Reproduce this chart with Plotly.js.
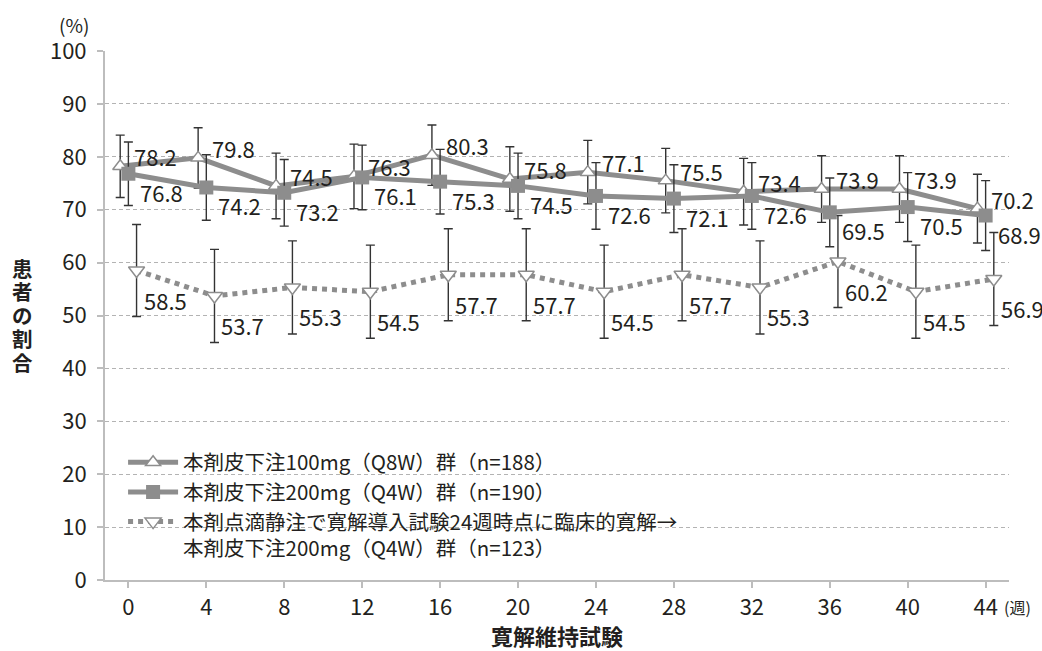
<!DOCTYPE html>
<html>
<head>
<meta charset="utf-8">
<script src="https://cdn.plot.ly/plotly-3.0.1.min.js"></script>
<style>
html,body{margin:0;padding:0;background:#fff;}
#chart{width:1042px;height:651px;}
</style>
</head>
<body>
<div id="chart"></div>
<script>
// ---- data ----
const weeks = [0, 4, 8, 12, 16, 20, 24, 28, 32, 36, 40, 44];
const tickLabels = ['0','4','8','12','16','20','24','28','32','36','40','44'];

const nameQ8W = '本剤皮下注100mg（Q8W）群（n=188）';
const nameQ4W = '本剤皮下注200mg（Q4W）群（n=190）';
const nameIV  = '本剤点滴静注で寛解導入試験24週時点に臨床的寛解→<br>本剤皮下注200mg（Q4W）群（n=123）';

const valQ8W = [78.2, 79.8, 74.5, 76.3, 80.3, 75.8, 77.1, 75.5, 73.4, 73.9, 73.9, 70.2];
const errQ8W = [5.9, 5.7, 6.2, 6.1, 5.7, 6.1, 6.0, 6.1, 6.3, 6.3, 6.3, 6.5];

const valQ4W = [76.8, 74.2, 73.2, 76.1, 75.3, 74.5, 72.6, 72.1, 72.6, 69.5, 70.5, 68.9];
const errQ4W = [6.0, 6.2, 6.3, 6.1, 6.1, 6.2, 6.3, 6.4, 6.3, 6.5, 6.5, 6.6];

const valIV = [58.5, 53.7, 55.3, 54.5, 57.7, 57.7, 54.5, 57.7, 55.3, 60.2, 54.5, 56.9];
const errIV = [8.7, 8.8, 8.8, 8.8, 8.7, 8.7, 8.8, 8.7, 8.8, 8.7, 8.8, 8.8];

const yTitleChars = ['患', '者', 'の', '割', '合'];

// ---- styling ----
const FONT = '"Noto Sans CJK JP", "Noto Sans", sans-serif';
const GRAY = '#8d8d8d';
const DARK = '#231f20';
const SHIFT = 0.42; // horizontal dodge of the series around each week

const xQ8W = weeks.map(w => w - SHIFT);
const xQ4W = weeks.slice();
const xIV  = weeks.map(w => w + SHIFT);

function errBar(arr){
  return {type:'data', array: arr, symmetric: true, color:'#333', thickness:1.4, width:4.5};
}

const traces = [
  {
    x: xIV, y: valIV, name: nameIV, type:'scatter', mode:'lines+markers',
    line:{color:GRAY, width:5, dash:'dot'},
    marker:{symbol:'triangle-down', size:14, color:'#fff', line:{color:GRAY, width:1.5}},
    error_y: errBar(errIV), legendrank: 3, cliponaxis:false
  },
  {
    x: xQ8W, y: valQ8W, name: nameQ8W, type:'scatter', mode:'lines+markers',
    line:{color:GRAY, width:5},
    marker:{symbol:'triangle-up', size:13, color:'#fff', line:{color:GRAY, width:1.5}},
    error_y: errBar(errQ8W), legendrank: 1, cliponaxis:false
  },
  {
    x: xQ4W, y: valQ4W, name: nameQ4W, type:'scatter', mode:'lines+markers',
    line:{color:GRAY, width:5},
    marker:{symbol:'square', size:14, color:GRAY, line:{color:GRAY, width:0}},
    error_y: errBar(errQ4W), legendrank: 2, cliponaxis:false
  }
];

// data labels
const annotations = [];
function addLabels(xs, vals, xshift, yshift){
  xs.forEach((x, i) => {
    annotations.push({
      x: x, y: vals[i], xref:'x', yref:'y', text: vals[i].toFixed(1),
      showarrow:false, xanchor:'left', yanchor:'middle',
      xshift: xshift, yshift: yshift,
      font:{family:FONT, size:22, color:DARK}
    });
  });
}
addLabels(xQ8W, valQ8W, 12, 10);
addLabels(xQ4W, valQ4W, 10, -18);
addLabels(xIV, valIV, 5, -29);

// axis unit labels
annotations.push({
  xref:'paper', yref:'paper', x:0, y:1, xanchor:'right', yanchor:'middle',
  xshift:-14, yshift:27, text:'(%)', showarrow:false,
  font:{family:FONT, size:19, color:DARK}
});
annotations.push({
  xref:'paper', yref:'paper', x:1, y:0, xanchor:'left', yanchor:'middle',
  xshift:-7, yshift:-27, text:'(週)', showarrow:false,
  font:{family:FONT, size:16, color:DARK}
});
// vertical (upright, stacked) y-axis title
yTitleChars.forEach((ch, i) => {
  annotations.push({
    xref:'paper', yref:'paper', x:0, y:0.5, xanchor:'center', yanchor:'middle',
    xshift:-83, yshift: (2 - i) * 23.5 + 1, text:'<b>' + ch + '</b>', showarrow:false,
    font:{family:FONT, size:20.5, color:DARK}
  });
});

const layout = {
  width:1042, height:651,
  margin:{l:105, r:33, t:51, b:71, pad:0},
  paper_bgcolor:'#fff', plot_bgcolor:'#fff',
  font:{family:FONT, color:DARK},
  showlegend:true,
  legend:{
    x:0.02, y:0.26, xanchor:'left', yanchor:'top',
    bgcolor:'rgba(255,255,255,0)', borderwidth:0,
    font:{family:FONT, size:20.5, color:DARK},
    valign:'top', tracegroupgap:0, itemwidth:50
  },
  shapes:[{
    type:'rect', xref:'paper', yref:'paper', layer:'between',
    x0:0.002, x1:0.683, y0:0.02, y1:0.27,
    fillcolor:'#fff', line:{width:0}
  }],
  xaxis:{
    range:[-1.2, 45.2], tickmode:'array', tickvals:weeks, ticktext:tickLabels,
    showgrid:false, zeroline:false, showline:true, linecolor:'#bdbdbd', linewidth:2,
    ticks:'outside', ticklen:6, tickwidth:2, tickcolor:'#bdbdbd',
    tickfont:{family:FONT, size:22, color:DARK}, ticklabelstandoff:1,
    title:{text:'<b>寛解維持試験</b>', font:{family:FONT, size:22, color:DARK}, standoff:9}
  },
  yaxis:{
    range:[0, 100], dtick:10, tick0:0,
    showgrid:true, gridcolor:'#b3b3b3', gridwidth:1, griddash:'4px,3px',
    zeroline:false, showline:true, linecolor:'#bdbdbd', linewidth:2,
    ticks:'outside', ticklen:6, tickwidth:2, tickcolor:'#bdbdbd',
    tickfont:{family:FONT, size:22, color:DARK}, ticklabelstandoff:6
  },
  annotations: annotations
};

Plotly.newPlot('chart', traces, layout, {displayModeBar:false, staticPlot:true});
</script>
</body>
</html>
